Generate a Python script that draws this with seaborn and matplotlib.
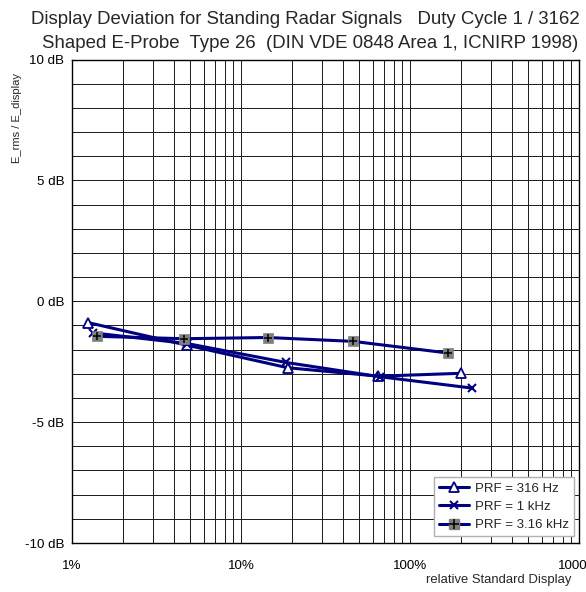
import numpy as np
import pandas as pd
import matplotlib
matplotlib.use("Agg")
import matplotlib.pyplot as plt
from matplotlib.lines import Line2D
from matplotlib.legend_handler import HandlerTuple
from matplotlib.ticker import FixedLocator, NullFormatter
import seaborn as sns

# ---- data ----
x_316 = [1.24, 4.8, 18.9, 65.0, 200.0]
y_316 = [-0.88, -1.82, -2.75, -3.10, -2.98]

x_1k = [1.34, 4.8, 18.4, 66.0, 232.0]
y_1k = [-1.31, -1.75, -2.53, -3.12, -3.59]

x_3k = [1.40, 4.6, 14.4, 46.2, 167.0]
y_3k = [-1.45, -1.55, -1.50, -1.66, -2.14]

series_names = ["PRF = 316 Hz", "PRF = 1 kHz", "PRF = 3.16 kHz"]
y_ticks = [-10, -5, 0, 5, 10]
y_ticklabels = ["-10 dB", "-5 dB", "0 dB", "5 dB", "10 dB"]
x_ticks = [1, 10, 100, 1000]
x_ticklabels = ["1%", "10%", "100%", "1000%"]

title1 = "Display Deviation for Standing Radar Signals   Duty Cycle 1 / 3162"
title2 = "Shaped E-Probe  Type 26  (DIN VDE 0848 Area 1, ICNIRP 1998)"

sns.set_style("white")
plt.rcParams["font.family"] = ["Liberation Sans", "DejaVu Sans"]

W, H = 586, 592
fig = plt.figure(figsize=(W / 100, H / 100), dpi=100)
ax = fig.add_axes([72 / W, 1 - 543 / H, (579 - 72) / W, (543 - 59.5) / H])

navy = "#000080"
lw = 2.2

df316 = pd.DataFrame({"x": x_316, "y": y_316})
df1k = pd.DataFrame({"x": x_1k, "y": y_1k})
df3k = pd.DataFrame({"x": x_3k, "y": y_3k})

sns.lineplot(data=df316, x="x", y="y", ax=ax, color=navy, lw=lw, marker="^",
             markersize=7, markerfacecolor="white", markeredgecolor=navy,
             markeredgewidth=1.3, zorder=5)
sns.lineplot(data=df1k, x="x", y="y", ax=ax, color=navy, lw=lw, marker="x",
             markersize=6, markeredgecolor=navy, markeredgewidth=1.5, zorder=5)
sns.lineplot(data=df3k, x="x", y="y", ax=ax, color=navy, lw=lw, marker="s",
             markersize=6.5, markerfacecolor="#808080", markeredgecolor="#808080",
             markeredgewidth=0.5, zorder=5)
sns.scatterplot(data=df3k, x="x", y="y", ax=ax, marker="+", s=40,
                color="black", linewidth=1.1, zorder=6)

ax.set_xscale("log")
ax.set_xlim(1, 1000)
ax.set_ylim(-10, 10)

ax.set_xticks(x_ticks)
ax.set_xticklabels(x_ticklabels)
minor = [m * 10 ** k for k in range(0, 3) for m in range(2, 10)]
ax.xaxis.set_minor_locator(FixedLocator(minor))
ax.xaxis.set_minor_formatter(NullFormatter())
ax.set_yticks(y_ticks)
ax.set_yticklabels(y_ticklabels)
ax.yaxis.set_minor_locator(FixedLocator(np.arange(-10, 11, 1)))

ax.grid(True, which="both", axis="both", color="#202020", lw=0.72)
ax.set_axisbelow(True)
for s in ax.spines.values():
    s.set_color("black")
    s.set_linewidth(1.0)

ax.tick_params(axis="both", which="major", direction="inout", length=7,
               width=1.0, color="black", labelsize=9.6, labelcolor="black")
ax.tick_params(axis="x", which="major", pad=9)
ax.tick_params(axis="y", which="major", pad=2)
ax.tick_params(axis="x", which="minor", direction="inout", length=7,
               width=1.0, color="black")
ax.tick_params(axis="y", which="minor", length=0)
for lab in ax.get_xticklabels():
    lab.set_clip_on(False)

ax.set_xlabel("")
ax.set_ylabel("")
fig.text(571 / W, 1 - 580 / H, "relative Standard Display", ha="right",
         va="center", fontsize=9.4)
fig.text(17 / W, 1 - 118 / H, "E_rms / E_display", rotation=90, ha="center",
         va="center", fontsize=8.0)

fig.text(305 / W, 1 - 20 / H, title1, ha="center", va="center", fontsize=13.4)
fig.text(310 / W, 1 - 43 / H, title2, ha="center", va="center", fontsize=13.4)

h1 = Line2D([], [], color=navy, lw=lw, marker="^", markersize=7,
            markerfacecolor="white", markeredgecolor=navy, markeredgewidth=1.3)
h2 = Line2D([], [], color=navy, lw=lw, marker="x", markersize=6,
            markeredgecolor=navy, markeredgewidth=1.5)
h3a = Line2D([], [], color=navy, lw=lw, marker="s", markersize=6.5,
             markerfacecolor="#808080", markeredgecolor="#808080")
h3b = Line2D([], [], color="black", lw=0, marker="+", markersize=6.5,
             markeredgewidth=1.1)
leg = ax.legend([h1, h2, (h3a, h3b)], series_names,
                handler_map={tuple: HandlerTuple(ndivide=1, pad=0)},
                loc="lower right", bbox_to_anchor=(0.995, 0.008), fontsize=9.5,
                frameon=True, fancybox=False, framealpha=1, edgecolor="#b0b0b0",
                handlelength=2.3, handletextpad=0.4, labelspacing=0.45,
                borderpad=0.4, borderaxespad=0.2)
leg.get_frame().set_linewidth(1.0)

fig.savefig("out.png", dpi=100)
